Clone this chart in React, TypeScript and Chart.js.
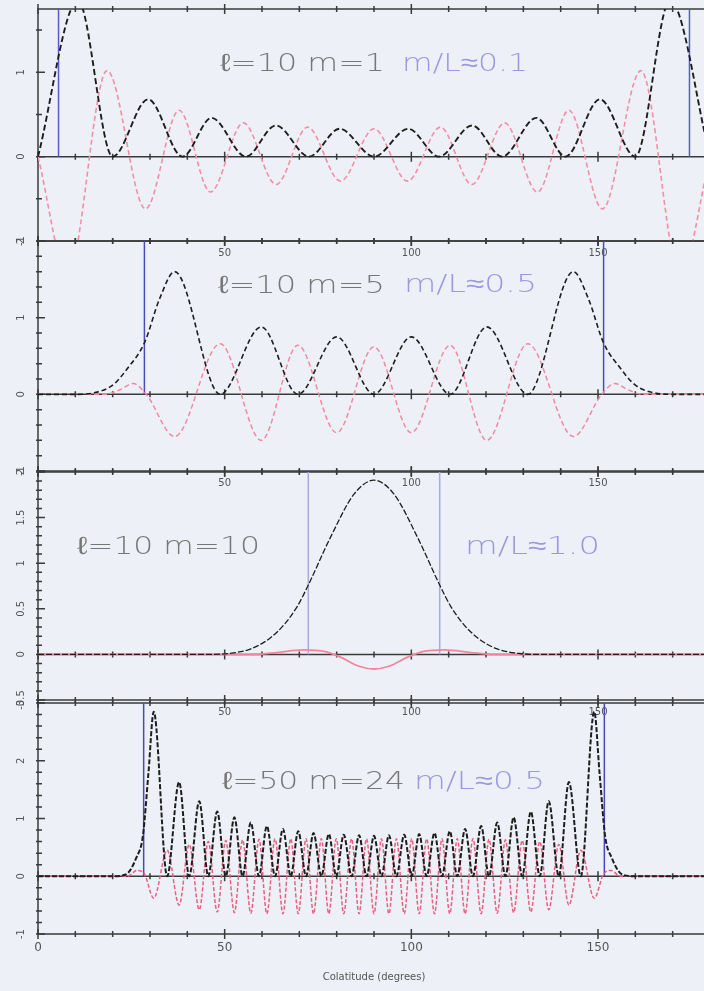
import React, { useEffect, useRef } from 'react';
import { Chart, registerables } from 'chart.js';

Chart.register(...registerables);

type Pt = [number, number];

// ---------- data (colatitude in degrees, amplitude) ----------
const xLabelsInner = [50, 100, 150];
const xLabelsBottom = [0, 50, 100, 150];
const xTitle = 'Colatitude (degrees)';

const panelTitles = ['ℓ=10 m=1', 'ℓ=10 m=5', 'ℓ=10 m=10', 'ℓ=50 m=24'];
const ratioTexts = ['m/L≈0.1', 'm/L≈0.5', 'm/L≈1.0', 'm/L≈0.5'];

const p1YLabels = [-1, 0, 1];
const p2YLabels = [-1, 0, 1, 2];
const p3YLabels = [-0.5, 0, 0.5, 1, 1.5, 2];
const p4YLabels = [-1, 0, 1, 2, 3];

const p1Turn = [5.5, 174.5];
const p2Turn = [28.5, 151.5];
const p3Turn = [72.4, 107.6];
const p4Turn = [28.3, 151.7];

const p1Black: Pt[] = [
  [0, 0], [10.7, 1.85], [20, 0], [29.5, 0.68], [38.7, 0], [46.5, 0.46], [55.7, 0], [63.7, 0.37],
  [72.6, 0], [80.8, 0.33], [90, 0], [99.2, 0.33], [107.4, 0], [116.3, 0.37], [124.3, 0],
  [133.5, 0.46], [141.3, 0], [150.5, 0.68], [160, 0], [169.3, 1.85], [180, 0],
];
const p1Red: Pt[] = [
  [0, 0], [8, -1.4], [18.5, 1.02], [28.8, -0.62], [37.8, 0.55], [46.2, -0.42], [55, 0.4],
  [63.8, -0.33], [72.2, 0.35], [81, -0.29], [90, 0.33], [99, -0.29], [107.8, 0.35], [116.2, -0.33],
  [125, 0.4], [133.8, -0.42], [142.2, 0.55], [151.2, -0.62], [161.5, 1.02], [172, -1.4], [180, 0],
];

const p2Black: Pt[] = [
  [0, 0], [10, 0], [15, 0.02], [20, 0.12], [24, 0.34], [28.5, 0.67], [32.6, 1.25], [36.6, 1.6],
  [48.8, 0], [59.8, 0.88], [69.6, 0], [80, 0.75], [90, 0], [100, 0.75], [110.4, 0], [120.2, 0.88],
  [131.2, 0], [143.4, 1.6], [147.4, 1.25], [151.5, 0.67], [156, 0.34], [160, 0.12], [165, 0.02],
  [170, 0], [180, 0],
];
const p2Red: Pt[] = [
  [0, 0], [18, 0], [22, 0.06], [25.5, 0.14], [29, 0], [36.6, -0.55], [48.8, 0.66], [59.8, -0.6],
  [69.6, 0.64], [80, -0.5], [90, 0.62], [100, -0.5], [110.4, 0.64], [120.2, -0.6], [131.2, 0.66],
  [143.4, -0.55], [151, 0], [154.5, 0.14], [158, 0.06], [162, 0], [180, 0],
];

const p3Black: Pt[] = [
  [0, 0], [45, 0], [51, 0.01], [57, 0.06], [62.2, 0.18], [66, 0.33], [69.5, 0.53], [72.4, 0.76],
  [78.3, 1.28], [84.7, 1.76], [90, 1.91], [95.3, 1.76], [101.7, 1.28], [107.6, 0.76], [110.5, 0.53],
  [114, 0.33], [117.8, 0.18], [123, 0.06], [129, 0.01], [135, 0], [180, 0],
];
const p3Red: Pt[] = [
  [0, 0], [58, 0], [64, 0.02], [71, 0.05], [77, 0.03], [81, -0.03], [86, -0.13], [90, -0.16],
  [94, -0.13], [99, -0.03], [103, 0.03], [109, 0.05], [116, 0.02], [122, 0], [180, 0],
];

const p4Black: Pt[] = [
  [0, 0], [20, 0], [23.5, 0.03], [26.4, 0.33], [28.1, 0.7], [29.6, 1.8], [31, 2.85], [34.6, 0],
  [37.8, 1.63], [40.5, 0], [43.2, 1.3], [45.6, 0], [48, 1.12], [50.3, 0], [52.6, 1.02], [54.8, 0],
  [57, 0.93], [59.2, 0], [61.3, 0.87], [63.5, 0], [65.6, 0.82], [67.7, 0], [69.7, 0.78], [71.8, 0],
  [73.8, 0.75], [75.9, 0], [77.9, 0.73], [79.9, 0], [81.9, 0.72], [84, 0], [86, 0.71], [88, 0],
  [90, 0.7], [92, 0], [94, 0.71], [96, 0], [98.1, 0.72], [100.1, 0], [102.1, 0.73], [104.1, 0],
  [106.2, 0.75], [108.2, 0], [110.3, 0.78], [112.3, 0], [114.4, 0.82], [116.5, 0], [118.7, 0.87],
  [120.8, 0], [123, 0.93], [125.2, 0], [127.4, 1.02], [129.7, 0], [132, 1.12], [134.4, 0],
  [136.8, 1.3], [139.5, 0], [142.2, 1.63], [145.4, 0], [149, 2.85], [150.4, 1.8], [151.9, 0.7],
  [153.6, 0.33], [156.5, 0.03], [160, 0], [180, 0],
];
const p4Red: Pt[] = [
  [0, 0], [24, 0], [26.5, 0.1], [28.5, 0.04], [31, -0.38], [34.6, 0.45], [37.8, -0.5], [40.5, 0.55],
  [43.2, -0.58], [45.6, 0.6], [48, -0.62], [50.3, 0.62], [52.6, -0.63], [54.8, 0.63], [57, -0.64],
  [59.2, 0.64], [61.3, -0.65], [63.5, 0.65], [65.6, -0.65], [67.7, 0.65], [69.7, -0.65], [71.8, 0.65],
  [73.8, -0.65], [75.9, 0.65], [77.9, -0.65], [79.9, 0.65], [81.9, -0.65], [84, 0.65], [86, -0.65],
  [88, 0.65], [90, -0.65], [92, 0.65], [94, -0.65], [96, 0.65], [98.1, -0.65], [100.1, 0.65],
  [102.1, -0.65], [104.1, 0.65], [106.2, -0.65], [108.2, 0.65], [110.3, -0.65], [112.3, 0.65],
  [114.4, -0.65], [116.5, 0.65], [118.7, -0.65], [120.8, 0.64], [123, -0.64], [125.2, 0.63],
  [127.4, -0.63], [129.7, 0.62], [132, -0.62], [134.4, 0.6], [136.8, -0.58], [139.5, 0.55],
  [142.2, -0.5], [145.4, 0.45], [149, -0.38], [151.5, 0.04], [153.5, 0.1], [156, 0], [180, 0],
];

// ---------- layout / styling ----------
const W = 720;
const H = 991;
const BG = '#edf0f6';
const AXIS = '#3a3a3a';
const LABEL = '#555';
const TITLE_FONT = '200 25px "DejaVu Sans", sans-serif';

interface TextPos { x: number; w: number; cy: number }
interface Panel {
  top: number; bottom: number; yMin: number; yMax: number; yStep: number; yLabels: number[];
  black: Pt[]; red: Pt[]; turn: number[];
  blackW: number; blackDash: number[]; redColor: string; redW: number; redDash: number[]; blue: string;
  xLabels: number[]; xLabelFont: number; xLabelOffset: number; showTitle: boolean;
  title: string; ratio: string; titlePos: TextPos; ratioPos: TextPos;
}

const panels: Panel[] = [
  {
    top: 9, bottom: 241, yMin: -1, yMax: 1.75, yStep: 0.5, yLabels: p1YLabels,
    black: p1Black, red: p1Red, turn: p1Turn,
    blackW: 1.9, blackDash: [6, 3], redColor: '#f38ea4', redW: 1.6, redDash: [5, 3], blue: '#5a5ad0',
    xLabels: xLabelsInner, xLabelFont: 10, xLabelOffset: 12, showTitle: false,
    title: panelTitles[0], ratio: ratioTexts[0],
    titlePos: { x: 220, w: 165, cy: 64 }, ratioPos: { x: 402, w: 126, cy: 64 },
  },
  {
    top: 241, bottom: 471, yMin: -1, yMax: 2, yStep: 0.2, yLabels: p2YLabels,
    black: p2Black, red: p2Red, turn: p2Turn,
    blackW: 1.6, blackDash: [5, 3], redColor: '#f2899f', redW: 1.5, redDash: [5, 3], blue: '#4a4ac0',
    xLabels: xLabelsInner, xLabelFont: 10, xLabelOffset: 12, showTitle: false,
    title: panelTitles[1], ratio: ratioTexts[1],
    titlePos: { x: 218, w: 167, cy: 286 }, ratioPos: { x: 404, w: 133, cy: 285 },
  },
  {
    top: 472, bottom: 700, yMin: -0.5, yMax: 2, yStep: 0.1, yLabels: p3YLabels,
    black: p3Black, red: p3Red, turn: p3Turn,
    blackW: 1.3, blackDash: [6, 2], redColor: '#f0869c', redW: 1.8, redDash: [], blue: '#a9a9e4',
    xLabels: xLabelsInner, xLabelFont: 10, xLabelOffset: 12, showTitle: false,
    title: panelTitles[2], ratio: ratioTexts[2],
    titlePos: { x: 77, w: 183, cy: 547 }, ratioPos: { x: 465, w: 135, cy: 547 },
  },
  {
    top: 703, bottom: 934, yMin: -1, yMax: 3, yStep: 0.2, yLabels: p4YLabels,
    black: p4Black, red: p4Red, turn: p4Turn,
    blackW: 2, blackDash: [5, 2], redColor: '#e8607f', redW: 1.5, redDash: [4, 2], blue: '#4848bc',
    xLabels: xLabelsBottom, xLabelFont: 12, xLabelOffset: 14, showTitle: true,
    title: panelTitles[3], ratio: ratioTexts[3],
    titlePos: { x: 222, w: 183, cy: 782 }, ratioPos: { x: 414, w: 131, cy: 782 },
  },
];

function drawFitted(ctx: CanvasRenderingContext2D, text: string, pos: TextPos, color: string) {
  ctx.save();
  ctx.font = TITLE_FONT;
  const m = ctx.measureText(text).width;
  ctx.translate(pos.x, pos.cy);
  ctx.scale(pos.w / m, 1);
  ctx.textAlign = 'left';
  ctx.textBaseline = 'middle';
  ctx.fillStyle = color;
  ctx.fillText(text, 0, 0);
  ctx.restore();
}

function makePlugin(p: Panel) {
  return {
    id: 'panelAxes',
    beforeDatasetsDraw(chart: any) {
      const { ctx, chartArea: a, scales } = chart;
      const x = scales.x;
      const y = scales.y;
      const y0 = y.getPixelForValue(0);
      ctx.save();
      ctx.strokeStyle = AXIS;
      ctx.lineWidth = 1.5;
      ctx.strokeRect(a.left, a.top, a.right - a.left, a.bottom - a.top);
      ctx.beginPath();
      ctx.moveTo(a.left, y0);
      ctx.lineTo(a.right, y0);
      ctx.stroke();
      ctx.beginPath();
      for (let v = 0; v <= 180; v += 10) {
        const px = x.getPixelForValue(v);
        const len = v % 50 === 0 ? 5 : 3;
        for (const py of [a.top, y0, a.bottom]) {
          ctx.moveTo(px, py - len);
          ctx.lineTo(px, py + len);
        }
      }
      const n = Math.round((p.yMax - p.yMin) / p.yStep);
      for (let i = 0; i <= n; i++) {
        const v = Math.round((p.yMin + i * p.yStep) * 1000) / 1000;
        const py = y.getPixelForValue(v);
        const major = p.yLabels.includes(v);
        ctx.moveTo(a.left - 2, py);
        ctx.lineTo(a.left + (major ? 7 : 4), py);
      }
      ctx.stroke();
      ctx.restore();
    },
    afterDatasetsDraw(chart: any) {
      const { ctx, chartArea: a, scales } = chart;
      const x = scales.x;
      const y = scales.y;
      ctx.save();
      ctx.fillStyle = LABEL;
      ctx.textAlign = 'center';
      ctx.textBaseline = 'middle';
      ctx.font = '10px "DejaVu Sans", sans-serif';
      for (const v of p.yLabels) {
        const py = y.getPixelForValue(v);
        ctx.save();
        ctx.translate(21, py);
        ctx.rotate(-Math.PI / 2);
        ctx.fillText(String(v), 0, 0);
        ctx.restore();
      }
      ctx.font = `${p.xLabelFont}px "DejaVu Sans", sans-serif`;
      for (const v of p.xLabels) {
        ctx.fillText(String(v), x.getPixelForValue(v), a.bottom + p.xLabelOffset);
      }
      if (p.showTitle) {
        ctx.font = '10px "DejaVu Sans", sans-serif';
        ctx.fillText(xTitle, (x.getPixelForValue(0) + x.getPixelForValue(180)) / 2, 977);
      }
      ctx.restore();
      drawFitted(ctx, p.title, p.titlePos, '#777777');
      drawFitted(ctx, p.ratio, p.ratioPos, '#9a9ade');
    },
  };
}

function buildConfig(p: Panel): any {
  const toXY = (pts: Pt[]) => pts.map(([x, y]) => ({ x, y }));
  const datasets: any[] = [
    {
      data: toXY(p.black), borderColor: '#1e1e1e', borderWidth: p.blackW, borderDash: p.blackDash,
      cubicInterpolationMode: 'monotone', pointRadius: 0, fill: false,
    },
    {
      data: toXY(p.red), borderColor: p.redColor, borderWidth: p.redW, borderDash: p.redDash,
      cubicInterpolationMode: 'monotone', pointRadius: 0, fill: false,
    },
    ...p.turn.map((t) => ({
      data: [{ x: t, y: 0 }, { x: t, y: p.yMax }], borderColor: p.blue, borderWidth: 1.5,
      tension: 0, pointRadius: 0, fill: false,
    })),
  ];
  return {
    type: 'line',
    data: { datasets },
    options: {
      animation: false,
      responsive: false,
      maintainAspectRatio: false,
      events: [],
      layout: { padding: { left: 38, right: W - 710, top: p.top, bottom: H - p.bottom } },
      scales: {
        x: { type: 'linear', min: 0, max: 180, display: false },
        y: { type: 'linear', min: p.yMin, max: p.yMax, display: false },
      },
      plugins: { legend: { display: false }, tooltip: { enabled: false } },
    },
    plugins: [makePlugin(p)],
  };
}

export default function App() {
  const refs = useRef<(HTMLCanvasElement | null)[]>([]);
  useEffect(() => {
    const charts = panels.map((p, i) => new Chart(refs.current[i] as HTMLCanvasElement, buildConfig(p)));
    return () => charts.forEach((c) => c.destroy());
  }, []);
  return (
    <div
      style={{
        position: 'fixed', left: 0, top: 0, width: 704, height: 991, overflow: 'hidden', background: BG,
      }}
    >
      {panels.map((_, i) => (
        <canvas
          key={i}
          ref={(el) => { refs.current[i] = el; }}
          width={W}
          height={H}
          style={{ position: 'absolute', left: 0, top: 0, width: W, height: H }}
        />
      ))}
    </div>
  );
}
